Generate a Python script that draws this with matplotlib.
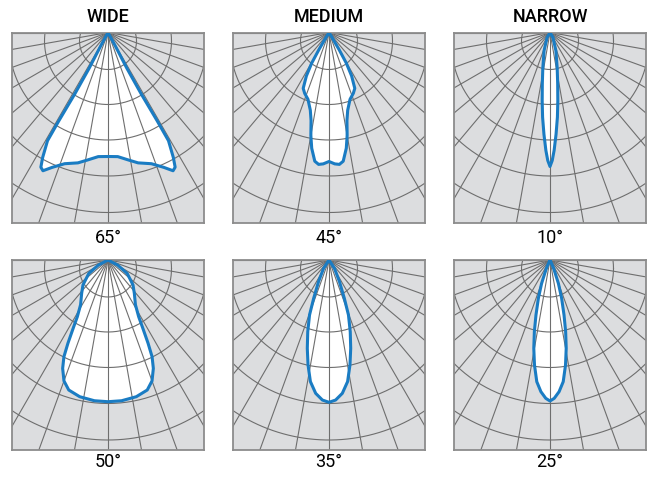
import numpy as np
import matplotlib.pyplot as plt

TITLES = ['WIDE', 'MEDIUM', 'NARROW']
BEAM_LABELS = ['65°', '45°', '10°', '50°', '35°', '25°']

# half intensity profiles: angle from nadir (deg) -> radius, bottom centre first, ending at the source
WIDE_ANG = [0, 4.5, 9, 13, 18.3, 22.5, 25.2, 26.5, 27.6, 29.2, 29.1, 28.4, 27.8, 28.5, 29]
WIDE_R = [124, 124.5, 129, 133.8, 138.2, 146, 152.8, 150.5, 141, 124, 101, 70, 40, 15, 0]

MEDIUM_ANG = [0, 2.5, 4.5, 6.3, 8.5, 10, 11.5, 13.5, 17.5, 21.8, 24.8, 27.5, 29.5, 30.5, 31, 31]
MEDIUM_R = [129, 131.5, 132.3, 129.5, 117, 104.5, 90, 80, 70, 65.5, 61.5, 49, 35, 20, 8, 0]

NARROW_ANG = [0, 1, 2, 3.4, 5, 6.5, 8.5, 11.5, 18, 30, 30]
NARROW_R = [134, 128, 118, 102, 85, 69, 52, 36, 19, 6, 0]

B50_ANG = [0, 5.5, 11.7, 16.8, 20, 22.7, 24.5, 25.7, 27.2, 28.4, 31.5, 38.3, 45, 55, 62, 68]
B50_R = [141.7, 141.4, 139.6, 135.8, 128.7, 117.5, 106.3, 92.4, 75, 64.5, 52.5, 42.5, 35.4, 23.5, 11, 0]

B35_ANG = [0, 2.7, 5.7, 8.7, 11.3, 13.8, 16.5, 19.5, 21.8, 25.8, 33, 38]
B35_R = [142.3, 140.2, 134, 123, 107, 91, 74.8, 58.3, 41.3, 24, 10, 0]

B25_ANG = [0, 1.75, 3.95, 6.2, 8.4, 10.4, 12.3, 14.3, 16.9, 19.7, 23.7, 28]
B25_R = [141, 138.4, 132, 122.4, 106.2, 89.8, 73.4, 56.8, 40, 25, 9, 0]

PROFILES = [(WIDE_ANG, WIDE_R), (MEDIUM_ANG, MEDIUM_R), (NARROW_ANG, NARROW_R),
            (B50_ANG, B50_R), (B35_ANG, B35_R), (B25_ANG, B25_R)]

GRID_ANGLES = np.arange(-90, 91, 10)
ARC_CROSS = [37, 72, 107.5, 143.5, 180]   # where each arc crosses the centre line
ARC_DROP = 8.5                            # arc centre sits a little below the source

W, H = 650, 479
LEFTS = [12, 233, 454]
TOPS = [32.5, 260]
BOX_W, BOX_H = 192, 190

BG = '#dcdddf'
GRID = '#6e6e6e'
EDGE = '#8c8c8c'
BLUE = '#1a7cc3'

plt.rcParams['font.family'] = ['Roboto', 'DejaVu Sans']

fig = plt.figure(figsize=(W / 100, H / 100), dpi=100)


def contour(ang, r):
    ang = np.asarray(ang, float)
    r = np.asarray(r, float)
    full_a = np.concatenate([-ang[::-1], ang[1:]])
    full_r = np.concatenate([r[::-1], r[1:]])
    t = np.radians(full_a)
    return full_r * np.sin(t), -full_r * np.cos(t)


for i, (ang, r) in enumerate(PROFILES):
    row, col = divmod(i, 3)
    left = LEFTS[col]
    top = TOPS[row]
    ax = fig.add_axes([left / W, 1 - (top + BOX_H) / H, BOX_W / W, BOX_H / H])
    ax.set_xlim(-BOX_W / 2, BOX_W / 2)
    ax.set_ylim(-BOX_H, 0)
    ax.set_facecolor(BG)
    ax.set_xticks([])
    ax.set_yticks([])
    for s in ax.spines.values():
        s.set_color(EDGE)
        s.set_linewidth(1.3)

    x, y = contour(ang, r)
    ax.fill(x, y, color='white', zorder=1, lw=0)

    for a in GRID_ANGLES:
        t = np.radians(a)
        ax.plot([0, 400 * np.sin(t)], [0, -400 * np.cos(t)], color=GRID, lw=0.8, zorder=2)
    th = np.linspace(0, 2 * np.pi, 400)
    for c in ARC_CROSS:
        rad = c - ARC_DROP
        ax.plot(rad * np.cos(th), -ARC_DROP + rad * np.sin(th), color=GRID, lw=0.8, zorder=2)

    ax.plot(x, y, color=BLUE, lw=2.2, zorder=3, solid_joinstyle='round')

    if row == 0:
        fig.text((left + BOX_W / 2) / W, 1 - 17 / H, TITLES[col], ha='center', va='center',
                 fontsize=13, fontweight='medium')
    ly = 238 if row == 0 else 462
    fig.text((left + BOX_W / 2) / W, 1 - ly / H, BEAM_LABELS[i], ha='center', va='center', fontsize=13)

fig.savefig('out.png', dpi=100)
